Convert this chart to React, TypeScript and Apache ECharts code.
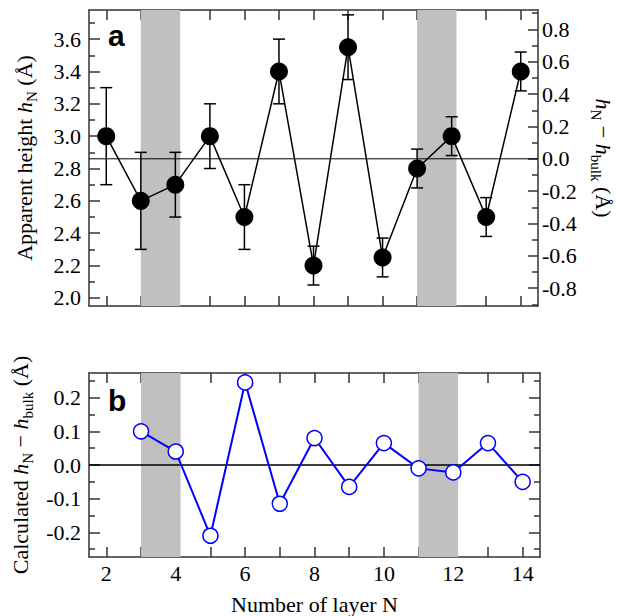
import React, { useEffect, useRef } from "react";
import * as echarts from "echarts";

// ---- data ----
const N_TOP = [2, 3, 4, 5, 6, 7, 8, 9, 10, 11, 12, 13, 14];
const H_N = [3.0, 2.6, 2.7, 3.0, 2.5, 3.4, 2.2, 3.55, 2.25, 2.8, 3.0, 2.5, 3.4];
const H_ERR = [0.3, 0.3, 0.2, 0.2, 0.2, 0.2, 0.12, 0.2, 0.12, 0.12, 0.12, 0.12, 0.12];
const H_BULK = 2.86;

const N_CALC = [3, 4, 5, 6, 7, 8, 9, 10, 11, 12, 13, 14];
const CALC_DH = [0.1, 0.04, -0.21, 0.245, -0.115, 0.08, -0.065, 0.065, -0.01, -0.022, 0.065, -0.05];

const SHADED = [
  [3, 4.14],
  [11, 12.14],
];

// ---- ticks ----
const N_TICKS = [2, 3, 4, 5, 6, 7, 8, 9, 10, 11, 12, 13, 14];
const N_LABELS = [2, 4, 6, 8, 10, 12, 14];
const H_MAJOR = [2.0, 2.2, 2.4, 2.6, 2.8, 3.0, 3.2, 3.4, 3.6];
const H_MINOR = [2.1, 2.3, 2.5, 2.7, 2.9, 3.1, 3.3, 3.5, 3.7];
const DH_MAJOR = [-0.8, -0.6, -0.4, -0.2, 0.0, 0.2, 0.4, 0.6, 0.8];
const DH_MINOR = [-0.9, -0.7, -0.5, -0.3, -0.1, 0.1, 0.3, 0.5, 0.7, 0.9];
const C_MAJOR = [-0.2, -0.1, 0.0, 0.1, 0.2];
const C_MINOR = [-0.25, -0.15, -0.05, 0.05, 0.15, 0.25];

const SERIF = "'Liberation Serif', 'Times New Roman', serif";
const FRAME = "#333";

const richStyles = {
  t: { fontFamily: SERIF, fontSize: 22, color: "#000", lineHeight: 30 },
  i: { fontFamily: SERIF, fontSize: 22, fontStyle: "italic", color: "#000", lineHeight: 30 },
  s: { fontFamily: SERIF, fontSize: 15, color: "#000", lineHeight: 15, verticalAlign: "bottom" },
};

const LABEL_SIZE = 22;

function xAxis(gridIndex: number, position: string, labels: boolean, name?: string) {
  return {
    type: "value",
    gridIndex,
    position,
    min: 1.5,
    max: 14.5,
    name: name || "",
    nameLocation: "middle",
    nameGap: 36,
    nameTextStyle: { fontFamily: SERIF, fontSize: 22, color: "#000" },
    axisLine: { show: true, onZero: false, lineStyle: { color: FRAME, width: 1.5 } },
    axisTick: { show: true, inside: true, length: 10, customValues: N_TICKS, lineStyle: { color: FRAME, width: 1.5 } },
    axisLabel: {
      show: labels,
      customValues: N_LABELS,
      margin: 5,
      fontFamily: SERIF,
      fontSize: LABEL_SIZE,
      color: "#000",
      formatter: (v: number) => String(Math.round(v)),
    },
    splitLine: { show: false },
  };
}

function yAxis(
  gridIndex: number,
  position: string,
  min: number,
  max: number,
  ticks: number[],
  len: number,
  labels: boolean,
  line: boolean,
  name?: string,
  nameRotate?: number,
  nameGap?: number,
  labelMargin?: number
) {
  return {
    type: "value",
    gridIndex,
    position,
    min,
    max,
    name: name || "",
    nameLocation: "middle",
    nameRotate: nameRotate ?? 90,
    nameGap: nameGap ?? 50,
    nameTextStyle: { rich: richStyles },
    axisLine: { show: line, onZero: false, lineStyle: { color: FRAME, width: 1.5 } },
    axisTick: { show: true, inside: true, length: len, customValues: ticks, lineStyle: { color: FRAME, width: 1.5 } },
    axisLabel: {
      show: labels,
      customValues: ticks,
      margin: labelMargin ?? 8,
      fontFamily: SERIF,
      fontSize: LABEL_SIZE,
      color: "#000",
      formatter: (v: number) => v.toFixed(1),
    },
    splitLine: { show: false },
  };
}

export default function App() {
  const ref = useRef<HTMLDivElement>(null);

  useEffect(() => {
    if (!ref.current) return;
    const chart = echarts.init(ref.current, undefined, { renderer: "svg" });

    const errData = N_TOP.map((n, i) => [n, H_N[i] - H_ERR[i], H_N[i] + H_ERR[i]]);
    const topData = N_TOP.map((n, i) => [n, H_N[i]]);
    const botData = N_CALC.map((n, i) => [n, CALC_DH[i]]);

    const shadeArea = {
      silent: true,
      itemStyle: { color: "#c0c0c0" },
      data: SHADED.map(([a, b]) => [{ xAxis: a }, { xAxis: b }]),
    };

    const option = {
      animation: false,
      backgroundColor: "#fff",
      textStyle: { fontFamily: SERIF },
      grid: [
        { left: 89, top: 10, width: 451, height: 296 },
        { left: 89, top: 373, width: 451, height: 185 },
      ],
      xAxis: [
        xAxis(0, "bottom", false),
        xAxis(0, "top", false),
        xAxis(1, "bottom", true, "Number of layer N"),
        xAxis(1, "top", false),
      ],
      yAxis: [
        yAxis(0, "left", 1.95, 3.78, H_MAJOR, 11, true, true, "{t|Apparent height }{i|h}{s|N}{t| (Å)}", 90, 50, 8),
        yAxis(0, "left", 1.95, 3.78, H_MINOR, 6, false, false),
        yAxis(0, "right", 1.95 - H_BULK, 3.78 - H_BULK, DH_MAJOR, 10, true, true, "{i|h}{s|N}{t| − }{i|h}{s|bulk}{t| (Å)}", -90, 50, 4),
        yAxis(0, "right", 1.95 - H_BULK, 3.78 - H_BULK, DH_MINOR, 6, false, false),
        yAxis(1, "left", -0.273, 0.273, C_MAJOR, 11, true, true, "{t|Calculated }{i|h}{s|N}{t| − }{i|h}{s|bulk}{t| (Å)}", 90, 50, 8),
        yAxis(1, "left", -0.273, 0.273, C_MINOR, 6, false, false),
        yAxis(1, "right", -0.273, 0.273, C_MAJOR, 11, false, true),
        yAxis(1, "right", -0.273, 0.273, C_MINOR, 6, false, false),
      ],
      graphic: [
        {
          type: "text",
          left: 108,
          top: 20,
          style: { text: "a", font: "bold 30px 'Liberation Sans'", fill: "#000" },
        },
        {
          type: "text",
          left: 108,
          top: 385,
          style: { text: "b", font: "bold 30px 'Liberation Sans'", fill: "#000" },
        },
      ],
      series: [
        {
          type: "line",
          xAxisIndex: 0,
          yAxisIndex: 0,
          data: [],
          z: 0,
          markArea: shadeArea,
        },
        {
          type: "line",
          xAxisIndex: 0,
          yAxisIndex: 0,
          data: [
            [1.5, H_BULK],
            [14.5, H_BULK],
          ],
          symbol: "none",
          z: 1,
          lineStyle: { color: "#000", width: 1 },
        },
        {
          type: "custom",
          xAxisIndex: 0,
          yAxisIndex: 0,
          z: 2,
          data: errData,
          encode: { x: 0, y: [1, 2] },
          renderItem: (params: any, api: any) => {
            const x = api.value(0);
            const lo = api.coord([x, api.value(1)]);
            const hi = api.coord([x, api.value(2)]);
            const cap = 6;
            const st = { stroke: "#000", lineWidth: 1.5 };
            return {
              type: "group",
              children: [
                { type: "line", shape: { x1: hi[0], y1: hi[1], x2: lo[0], y2: lo[1] }, style: st },
                { type: "line", shape: { x1: hi[0] - cap, y1: hi[1], x2: hi[0] + cap, y2: hi[1] }, style: st },
                { type: "line", shape: { x1: lo[0] - cap, y1: lo[1], x2: lo[0] + cap, y2: lo[1] }, style: st },
              ],
            };
          },
        },
        {
          type: "line",
          xAxisIndex: 0,
          yAxisIndex: 0,
          z: 3,
          data: topData,
          symbol: "circle",
          symbolSize: 18,
          itemStyle: { color: "#000" },
          lineStyle: { color: "#000", width: 1.5 },
        },
        {
          type: "line",
          xAxisIndex: 2,
          yAxisIndex: 4,
          data: [],
          z: 0,
          markArea: shadeArea,
        },
        {
          type: "line",
          xAxisIndex: 2,
          yAxisIndex: 4,
          data: [
            [1.5, 0],
            [14.5, 0],
          ],
          symbol: "none",
          z: 1,
          lineStyle: { color: "#000", width: 1.5 },
        },
        {
          type: "line",
          xAxisIndex: 2,
          yAxisIndex: 4,
          z: 3,
          data: botData,
          symbol: "circle",
          symbolSize: 15,
          showAllSymbol: true,
          itemStyle: { color: "#fff", borderColor: "#0000ff", borderWidth: 1.5 },
          lineStyle: { color: "#0000ff", width: 2 },
        },
      ],
    };

    chart.setOption(option as any);
    return () => chart.dispose();
  }, []);

  return (
    <div
      ref={ref}
      style={{ position: "fixed", left: 0, top: 0, width: 622, height: 616, background: "#fff" }}
    />
  );
}
